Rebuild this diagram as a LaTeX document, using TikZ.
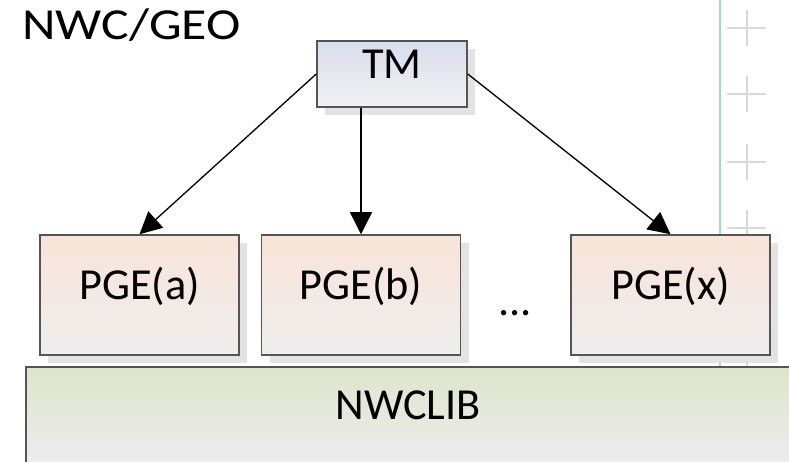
\documentclass[tikz,border=0pt]{standalone}
\usepackage{fontspec}
\setmainfont{Carlito}
\usetikzlibrary{%
  shadows,%
  arrows.meta%
}
\definecolor{boxline}{RGB}{85,85,85}
\definecolor{shadowgray}{RGB}{227,227,227}
\definecolor{tmtop}{RGB}{217,222,238}
\definecolor{tmbottom}{RGB}{241,241,241}
\definecolor{pgetop}{RGB}{249,228,216}
\definecolor{pgebottom}{RGB}{238,238,238}
\definecolor{libtop}{RGB}{222,228,204}
\definecolor{libbottom}{RGB}{237,237,237}
\definecolor{guide}{RGB}{165,212,222}

\begin{document}
\begin{tikzpicture}[x=0.25mm,y=-0.25mm,
  every node/.style={font=\fontsize{31.5}{38}\selectfont},
  box/.style={draw=boxline,line width=0.375mm,text height=0.64em,text depth=0pt,
    drop shadow={shadow xshift=2mm,shadow yshift=-2mm,fill=shadowgray,opacity=1}},
  tmbox/.style={box,top color=tmtop,bottom color=tmbottom,
    minimum width=37.5mm,minimum height=16.5mm},
  pgebox/.style={box,top color=pgetop,bottom color=pgebottom,
    minimum width=49.75mm,minimum height=30mm},
  libbox/.style={draw=boxline,line width=0.375mm,top color=libtop,bottom color=libbottom,
    text height=0.64em,text depth=0pt,minimum width=191mm,minimum height=24mm},
  arr/.style={-{Triangle[length=5.5mm,width=5.5mm]},line width=0.33mm}]
\clip (0,0) rectangle (789,462);
\draw[guide,line width=0.3mm] (720,0) -- (720,367);
\foreach \y in {28,94,162,228,294,360}
  \draw[gray!30,line width=0.3mm] (727,\y) -- (766,\y) (747,\y-18) -- (747,\y+18);
\node[anchor=base] (title) at (131.5,40) {\scalebox{1.17}[1]{NWC/GEO}};
\node[tmbox] (TM) at (392,74) {TM};
\node[pgebox] (PGEa) at (139.5,295) {PGE(a)};
\node[pgebox] (PGEb) at (361,295) {PGE(b)};
\node[pgebox] (PGEx) at (670.5,295) {PGE(x)};
\node[anchor=base] (dots) at (515,316) {...};
\node[libbox] (NWCLIB) at (408,415) {NWCLIB};
\draw[arr] (TM.west) -- (PGEa.north);
\draw[arr] (PGEb.north |- TM.south) -- (PGEb.north);
\draw[arr] (TM.east) -- (PGEx.north);
\end{tikzpicture}
\end{document}
